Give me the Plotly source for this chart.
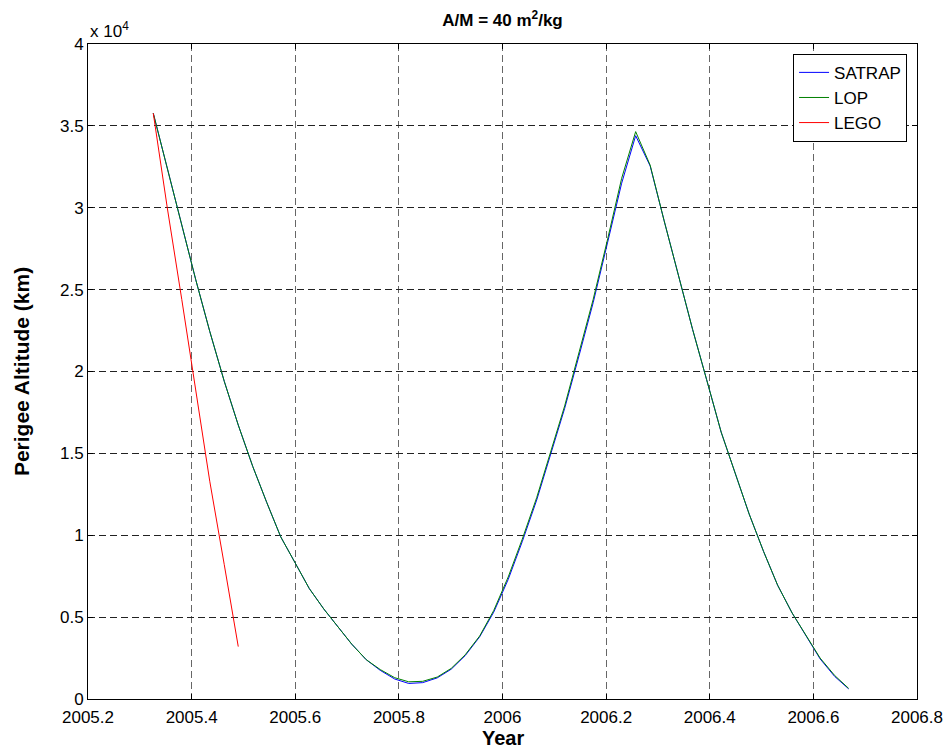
import plotly.graph_objects as go

# ---- data ----
years = [2005.326, 2005.353, 2005.381, 2005.408, 2005.435, 2005.463, 2005.490,
         2005.518, 2005.545, 2005.572, 2005.600, 2005.627, 2005.655, 2005.682,
         2005.709, 2005.737, 2005.764, 2005.792, 2005.819, 2005.846, 2005.874,
         2005.901, 2005.928, 2005.956, 2005.983, 2006.011, 2006.038, 2006.066,
         2006.093, 2006.120, 2006.148, 2006.175, 2006.203, 2006.230, 2006.257,
         2006.285, 2006.312, 2006.340, 2006.367, 2006.394, 2006.422, 2006.449,
         2006.476, 2006.504, 2006.531, 2006.559, 2006.586, 2006.613, 2006.641,
         2006.668]

lop_alt = [35770, 32400, 29000, 25600, 22450, 19400, 16730,
           14200, 12000, 9900, 8300, 6750, 5500, 4400,
           3350, 2400, 1800, 1300, 1050, 1080, 1340,
           1870, 2700, 3850, 5400, 7450, 9750, 12300,
           15150, 17900, 21200, 24400, 28100, 31800, 34650,
           32600, 29200, 25750, 22560, 19500, 16300, 13800,
           11300, 9000, 6950, 5250, 3900, 2500, 1440,
           650]

satrap_alt = [35770, 32400, 29000, 25600, 22450, 19400, 16730,
              14200, 12000, 9900, 8300, 6750, 5500, 4400,
              3350, 2400, 1750, 1220, 950, 1000, 1290,
              1820, 2650, 3800, 5300, 7300, 9600, 12150,
              15000, 17750, 21000, 24200, 27900, 31500, 34400,
              32550, 29200, 25750, 22560, 19500, 16300, 13800,
              11300, 9000, 6950, 5250, 3850, 2450, 1380,
              620]

lego_years = [2005.326, 2005.353, 2005.381, 2005.408, 2005.435, 2005.463, 2005.490]
lego_alt = [35770, 30000, 24400, 18700, 13300, 8200, 3200]

y_ticks = [0, 5000, 10000, 15000, 20000, 25000, 30000, 35000, 40000]
y_tick_labels = ["0", "0.5", "1", "1.5", "2", "2.5", "3", "3.5", "4"]
x_ticks = [2005.2, 2005.4, 2005.6, 2005.8, 2006.0, 2006.2, 2006.4, 2006.6, 2006.8]
x_tick_labels = ["2005.2", "2005.4", "2005.6", "2005.8", "2006", "2006.2", "2006.4", "2006.6", "2006.8"]

FONT = "Liberation Sans, Arial, sans-serif"

fig = go.Figure()
fig.add_trace(go.Scatter(x=years, y=satrap_alt, mode="lines", name="SATRAP",
                         line=dict(color="#0000ff", width=1)))
fig.add_trace(go.Scatter(x=years, y=lop_alt, mode="lines", name="LOP",
                         line=dict(color="#008000", width=1)))
fig.add_trace(go.Scatter(x=lego_years, y=lego_alt, mode="lines", name="LEGO",
                         line=dict(color="#ff0000", width=1)))

axis_common = dict(
    showline=True, linecolor="black", linewidth=1, mirror="ticks",
    ticks="inside", ticklen=5, tickcolor="black",
    showgrid=True, griddash="7px,4px", zeroline=False, automargin=False,
    tickfont=dict(family=FONT, size=17, color="black"),
)

fig.update_xaxes(range=[2005.2, 2006.8], tickvals=x_ticks, ticktext=x_tick_labels,
                 gridcolor="#666666", gridwidth=1, ticklabelstandoff=3,
                 **axis_common)
fig.update_yaxes(range=[0, 40000], tickvals=y_ticks, ticktext=y_tick_labels,
                 gridcolor="#222222", gridwidth=1,
                 title=dict(text="<b>Perigee Altitude (km)</b>",
                            font=dict(family=FONT, size=21, color="black"), standoff=24),
                 **axis_common)

fig.update_layout(
    width=947, height=748,
    margin=dict(l=88, r=30, t=44, b=49),
    paper_bgcolor="white", plot_bgcolor="white",
    title=dict(text="<b>A/M = 40 m<sup>2</sup>/kg</b>", x=0.5, xref="paper",
               y=1, yref="container", yanchor="top", pad=dict(t=14),
               font=dict(family=FONT, size=17, color="black")),
    legend=dict(x=0.988, y=0.985, xanchor="right", yanchor="top",
                bgcolor="white", bordercolor="black", borderwidth=1,
                font=dict(family=FONT, size=17, color="black"),
                tracegroupgap=0),
    showlegend=True,
    annotations=[
        dict(text="x 10<sup>4</sup>", xref="paper", yref="paper",
             x=0, y=1, xanchor="left", yanchor="bottom", showarrow=False,
             font=dict(family=FONT, size=17, color="black"), yshift=1),
        dict(text="<b>Year</b>", xref="paper", yref="paper",
             x=0.5, y=0, xanchor="center", yanchor="middle", showarrow=False,
             font=dict(family=FONT, size=20, color="black"), yshift=-39),
    ],
)

fig.write_html("out.html")
